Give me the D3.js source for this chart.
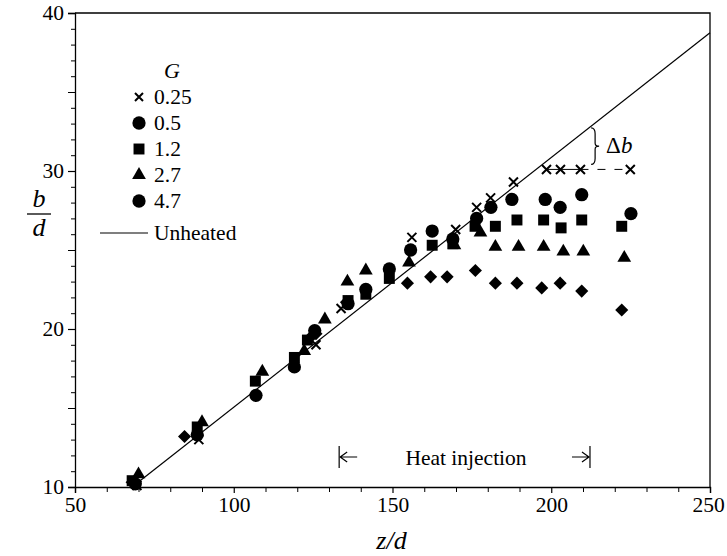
<!DOCTYPE html>
<html><head><meta charset="utf-8">
<script src="https://cdn.jsdelivr.net/npm/d3@7"></script>
<style>
body{margin:0;background:#fff}
svg{display:block}
</style>
</head><body>
<svg id="c" width="727" height="556"></svg>
<script>
// ---------- data ----------
const legendLabels = ["0.25", "0.5", "1.2", "2.7", "4.7"];
const xTickValues = [50, 100, 150, 200, 250];
const yTickValues = [10, 20, 30, 40];

const g025 = [[69.5,10.1],[89,13.0],[125.9,19.0],[133.8,21.3],[156.1,25.8],[169.9,26.3],
  [176.5,27.7],[180.9,28.3],[188.1,29.3],[198.5,30.1],[202.9,30.1],[209.2,30.1],[224.9,30.1]];
const g05 = [[69,10.2],[88.5,13.3],[107,15.8],[119.1,17.6],[125.5,19.9],[136,21.6],[141.6,22.5],
  [149,23.8],[155.7,25.0],[162.5,26.2],[169,25.7],[176.5,27.0],[181,27.7],[187.6,28.2],
  [198.1,28.2],[202.8,27.7],[209.6,28.5],[225.1,27.3]];
const g12 = [[68,10.4],[88.5,13.8],[106.8,16.7],[119.1,18.2],[123.2,19.3],[136,21.8],[141.6,22.2],
  [149,23.2],[162.5,25.3],[169,25.4],[176,26.5],[182.4,26.5],[189.2,26.9],[197.6,26.9],
  [203.1,26.4],[209.6,26.9],[222.2,26.5]];
const g27 = [[70,10.8],[90,14.1],[109,17.3],[122.2,18.6],[128.7,20.6],[135.8,23.0],[141.6,23.7],
  [155.2,24.2],[169.5,25.3],[177.7,26.1],[182.4,25.2],[189.7,25.2],[197.6,25.2],[203.8,24.9],
  [210.1,24.9],[223,24.5]];
const g47 = [[68,10.3],[84.5,13.2],[123.8,19.4],[125.9,19.7],[135.5,21.7],[154.7,22.9],[162,23.3],
  [167.2,23.3],[176.1,23.7],[182.4,22.9],[189.2,22.9],[197,22.6],[202.8,22.9],[209.6,22.4],[222.2,21.2]];
const unheated = [[68,10.0],[250,38.75]];
const heatInjection = [133.2, 212.2];
const deltaBLevel = 30.1;
const deltaBz = 213.5;

// ---------- font detection ----------
function pickFont(cands) {
  const ctx = document.createElement("canvas").getContext("2d");
  const s = "Unheated injection 0123456789 G";
  ctx.font = "30px monospace"; const wm = ctx.measureText(s).width;
  ctx.font = "30px sans-serif"; const ws = ctx.measureText(s).width;
  for (const f of cands) {
    ctx.font = `30px "${f}", monospace`; const a = ctx.measureText(s).width;
    ctx.font = `30px "${f}", sans-serif`; const b = ctx.measureText(s).width;
    if (a !== wm || b !== ws) return `"${f}", serif`;
  }
  return "serif";
}
const FONT = pickFont(["Liberation Serif", "Tinos", "Times New Roman", "Nimbus Roman", "DejaVu Serif", "Noto Serif"]);
const FS = 21.5;

// ---------- layout ----------
const svg = d3.select("#c");
const L = 75, R = 710, T = 13, B = 487;
const x = d3.scaleLinear().domain([50, 250]).range([L, R]);
const y = d3.scaleLinear().domain([10, 40]).range([B, T]);
const ink = "#000";

// frame (top & right)
svg.append("path").attr("d", `M${L},${T}H${R}V${B}`).attr("fill","none").attr("stroke",ink).attr("stroke-width",1.3);

// x axis
const xAxis = d3.axisBottom(x).tickValues(xTickValues).tickSize(6).tickPadding(4).tickFormat(d3.format("d"));
const gx = svg.append("g").attr("transform", `translate(0,${B})`).call(xAxis);
gx.select(".domain").attr("stroke", ink).attr("stroke-width", 1.3);
gx.selectAll(".tick line").attr("stroke", ink).attr("stroke-width", 1.2);
gx.selectAll("text").attr("font-size", FS).attr("dx", d => d === 250 ? -2 : 0);
svg.append("g").attr("transform", `translate(0,${B})`)
  .call(d3.axisBottom(x).tickValues(d3.range(60, 250, 10).filter(v => v % 50)).tickSize(5).tickFormat(""))
  .call(g => g.select(".domain").remove())
  .selectAll("line").attr("stroke", ink).attr("stroke-width", 1);

// y axis
const yAxis = d3.axisLeft(y).tickValues(yTickValues).tickSize(7).tickPadding(4).tickFormat(d3.format("d"));
const gy = svg.append("g").attr("transform", `translate(${L},0)`).call(yAxis);
gy.select(".domain").attr("stroke", ink).attr("stroke-width", 1.3);
gy.selectAll(".tick line").attr("stroke", ink).attr("stroke-width", 1.2);
gy.selectAll("text").attr("font-size", FS);
svg.append("g").attr("transform", `translate(${L},0)`)
  .call(d3.axisLeft(y).tickValues(d3.range(11, 40, 1).filter(v => v % 10)).tickSize(4).tickFormat(""))
  .call(g => g.select(".domain").remove())
  .selectAll(".tick line").attr("stroke", ink).attr("stroke-width", 1)
  .attr("x2", d => d % 5 === 0 ? -7 : -4);

// axis titles
svg.append("text").attr("x", (L + R) / 2 - 1).attr("y", 549).attr("text-anchor", "middle")
  .attr("font-size", 26).attr("font-style", "italic").text("z/d");
svg.append("text").attr("x", 39).attr("y", 207).attr("text-anchor", "middle")
  .attr("font-size", 26).attr("font-style", "italic").text("b");
svg.append("line").attr("x1", 27).attr("x2", 51).attr("y1", 214).attr("y2", 214).attr("stroke", ink).attr("stroke-width", 1.3);
svg.append("text").attr("x", 39).attr("y", 236).attr("text-anchor", "middle")
  .attr("font-size", 26).attr("font-style", "italic").text("d");

// unheated line
svg.append("path").datum(unheated)
  .attr("d", d3.line().x(d => x(d[0])).y(d => y(d[1])))
  .attr("fill", "none").attr("stroke", ink).attr("stroke-width", 1.2);

// markers
function crossPath(s) { return `M${-s},${-s}L${s},${s}M${-s},${s}L${s},${-s}`; }
const shapes = {
  cross: null,
  circle: d3.symbol().type(d3.symbolCircle).size(138)(),
  square: d3.symbol().type(d3.symbolSquare).size(120)(),
  triangle: d3.symbol().type(d3.symbolTriangle).size(82)(),
  diamond: d3.symbol().type(d3.symbolSquare).size(86)()
};
function drawSeries(data, kind) {
  const g = svg.append("g");
  data.forEach(d => {
    const t = `translate(${x(d[0])},${y(d[1])})` + (kind === "diamond" ? " rotate(45)" : "");
    if (kind === "cross") {
      g.append("path").attr("transform", t).attr("d", crossPath(4.5))
        .attr("stroke", ink).attr("stroke-width", 2).attr("fill", "none");
    } else {
      g.append("path").attr("transform", t).attr("d", shapes[kind]).attr("fill", ink);
    }
  });
}
drawSeries(g47, "diamond");
drawSeries(g27, "triangle");
drawSeries(g12, "square");
drawSeries(g05, "circle");
drawSeries(g025, "cross");

// line at crosses
svg.append("line").attr("x1", x(198.5)).attr("x2", x(209.2)).attr("y1", y(deltaBLevel)).attr("y2", y(deltaBLevel))
  .attr("stroke", ink).attr("stroke-width", 1);
svg.append("line").attr("x1", x(209.2)).attr("x2", x(224.9)).attr("y1", y(deltaBLevel)).attr("y2", y(deltaBLevel))
  .attr("stroke", ink).attr("stroke-width", 1).attr("stroke-dasharray", "8,9");

// Δb brace
const slope = (unheated[1][1] - unheated[0][1]) / (unheated[1][0] - unheated[0][0]);
const lineAt = z => unheated[0][1] + (z - unheated[0][0]) * slope;
const bx = x(deltaBz) - 3, y1 = y(lineAt(deltaBz)) + 4, y2 = y(deltaBLevel) - 5, ym = (y1 + y2) / 2, w = 4;
svg.append("path").attr("d",
  `M${bx},${y1} Q${bx + w},${y1} ${bx + w},${y1 + 6} L${bx + w},${ym - 3} Q${bx + w},${ym} ${bx + 2 * w},${ym}` +
  ` Q${bx + w},${ym} ${bx + w},${ym + 3} L${bx + w},${y2 - 6} Q${bx + w},${y2} ${bx},${y2}`)
  .attr("fill", "none").attr("stroke", ink).attr("stroke-width", 1.2);
const dbt = svg.append("text").attr("x", bx + 15).attr("y", ym + 7).attr("font-size", 23);
dbt.append("tspan").text("Δ");
dbt.append("tspan").attr("font-style", "italic").text("b");

// Heat injection annotation
const hx1 = x(heatInjection[0]), hx2 = x(heatInjection[1]), hy = 457;
[hx1, hx2].forEach(v => svg.append("line").attr("x1", v).attr("x2", v).attr("y1", hy - 11).attr("y2", hy + 11)
  .attr("stroke", ink).attr("stroke-width", 1.2));
svg.append("path").attr("d", `M${hx1 + 18},${hy}H${hx1 + 1}M${hx1 + 8},${hy - 5}L${hx1 + 1},${hy}L${hx1 + 8},${hy + 5}`)
  .attr("fill", "none").attr("stroke", ink).attr("stroke-width", 1.2);
svg.append("path").attr("d", `M${hx2 - 18},${hy}H${hx2 - 1}M${hx2 - 8},${hy - 5}L${hx2 - 1},${hy}L${hx2 - 8},${hy + 5}`)
  .attr("fill", "none").attr("stroke", ink).attr("stroke-width", 1.2);
svg.append("text").attr("x", 466).attr("y", 465).attr("text-anchor", "middle").attr("font-size", FS).text("Heat injection");

// legend
const lg = svg.append("g");
lg.append("text").attr("x", 172).attr("y", 78).attr("text-anchor", "middle").attr("font-size", 22)
  .attr("font-style", "italic").text("G");
const legendKinds = ["cross", "circle", "square", "triangle", "circle"];
legendLabels.forEach((lab, i) => {
  const cy = 97 + i * 26;
  if (legendKinds[i] === "cross") {
    lg.append("path").attr("transform", `translate(139,${cy})`).attr("d", crossPath(4))
      .attr("stroke", ink).attr("stroke-width", 2).attr("fill", "none");
  } else {
    lg.append("path").attr("transform", `translate(139,${cy})`).attr("d", shapes[legendKinds[i]]).attr("fill", ink);
  }
  lg.append("text").attr("x", 154).attr("y", cy + 7).attr("font-size", FS).text(lab);
});
lg.append("line").attr("x1", 100).attr("x2", 148).attr("y1", 233).attr("y2", 233).attr("stroke", ink).attr("stroke-width", 1.2);
lg.append("text").attr("x", 154).attr("y", 240).attr("font-size", FS).text("Unheated");

// apply font to every text
svg.selectAll("text").attr("font-family", FONT).style("font-family", FONT).attr("fill", ink);
</script>
</body></html>
